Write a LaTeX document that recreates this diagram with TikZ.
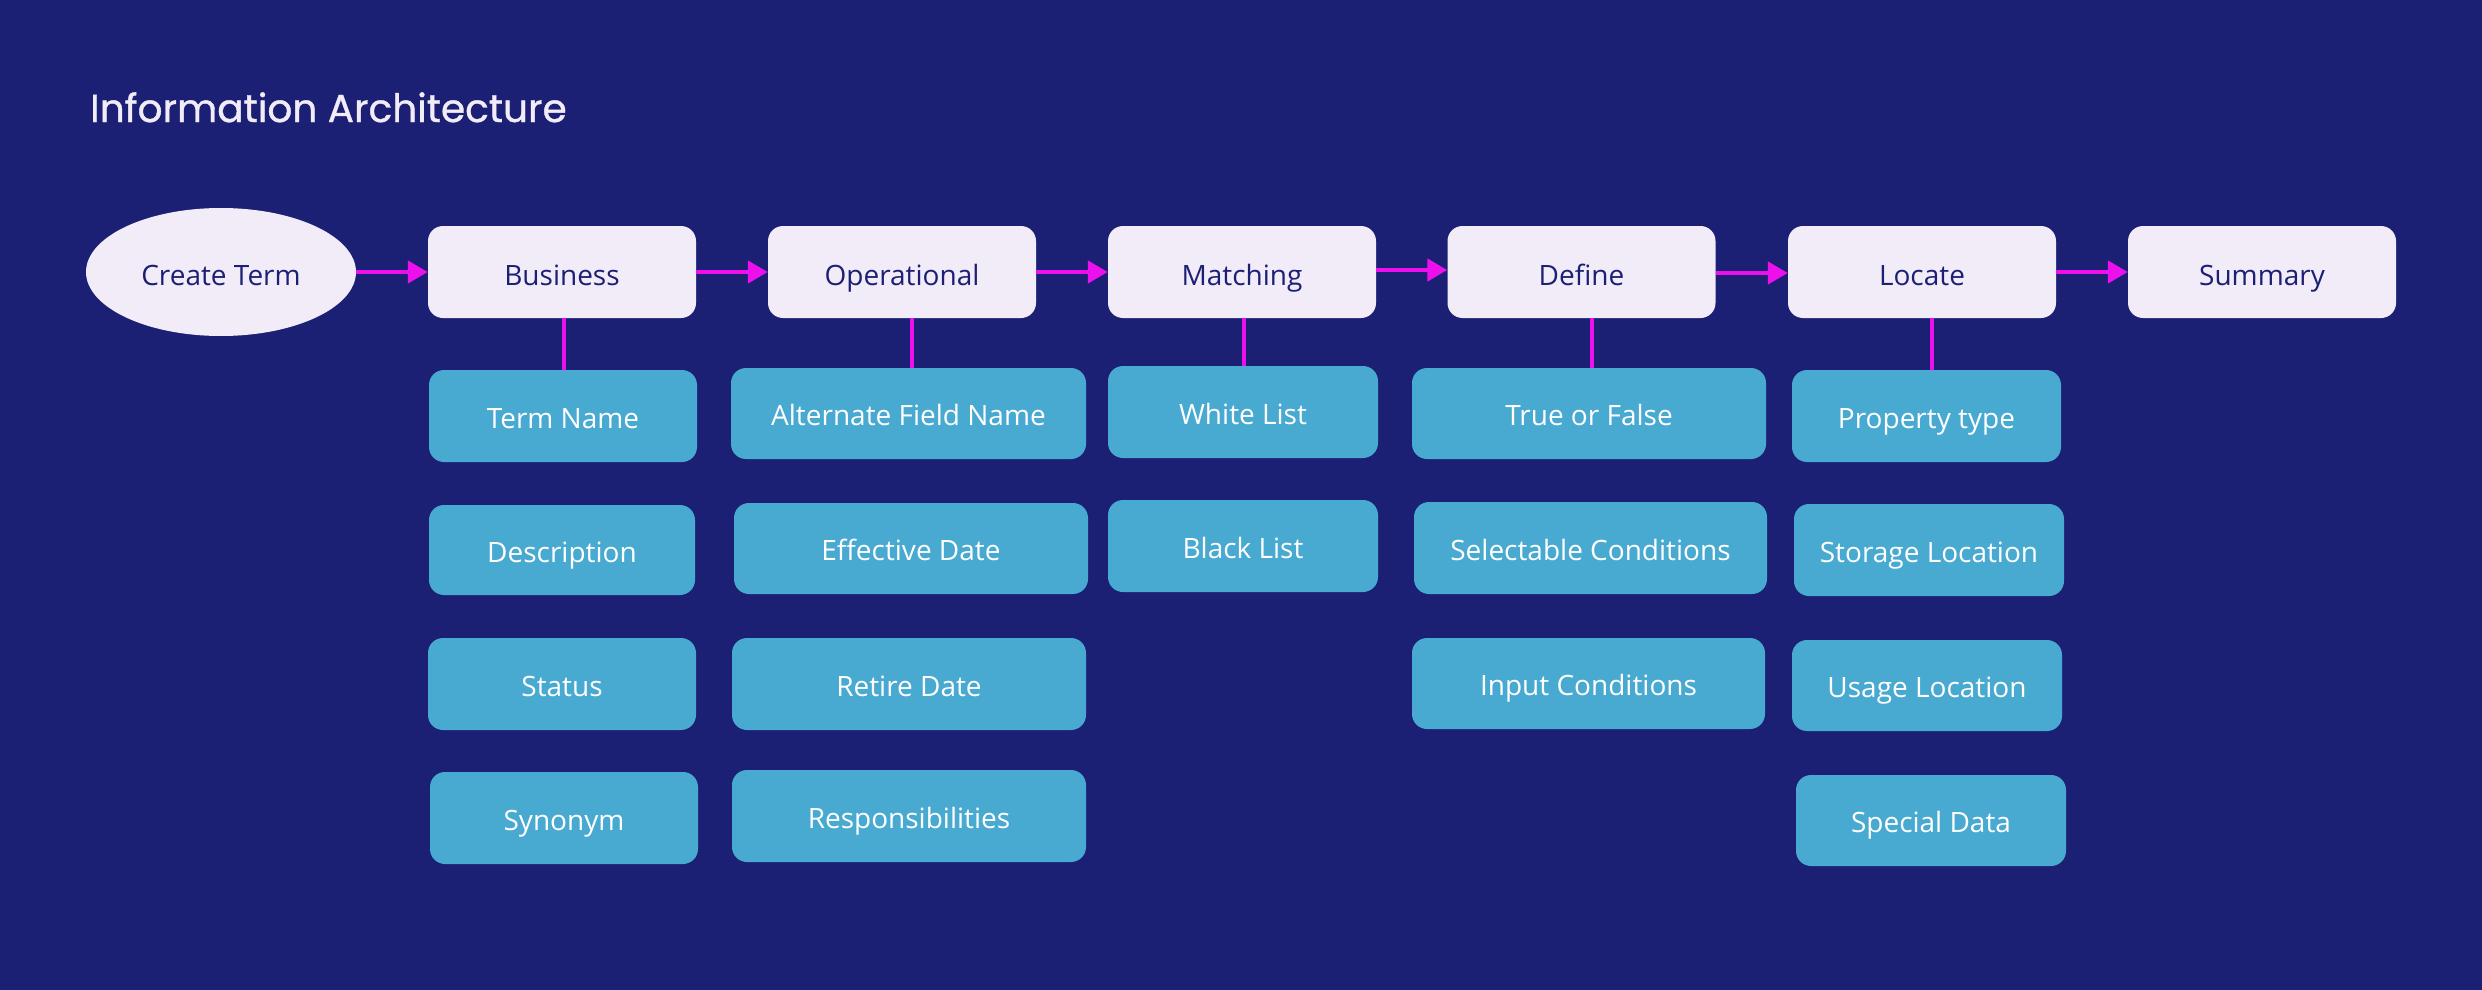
\documentclass[tikz,border=0pt]{standalone}
\usepackage{fontspec}
\setmainfont{Open Sans}
\newfontfamily\titlefont{Poppins}[FakeBold=1]
\usetikzlibrary{arrows.meta,shapes.geometric}
\definecolor{bgnavy}{RGB}{28,32,116}
\definecolor{topfill}{RGB}{241,236,248}
\definecolor{childfill}{RGB}{72,169,209}
\definecolor{linkmag}{RGB}{236,16,236}
\tikzset{
  topbox/.style={rectangle, rounded corners=15pt, fill=topfill, text=bgnavy, minimum width=268pt, minimum height=92pt, inner sep=0pt, text height=26pt, text depth=0pt, font=\fontsize{28}{33}\selectfont},
  startell/.style={ellipse, fill=topfill, text=bgnavy, minimum width=270pt, minimum height=128pt, inner sep=0pt, text height=26pt, text depth=0pt, font=\fontsize{28}{33}\selectfont},
  childbox/.style={rectangle, rounded corners=15pt, fill=childfill, text=white, inner sep=0pt, text height=24pt, text depth=0pt, font=\fontsize{28}{33}\selectfont},
  flow/.style={draw=linkmag, line width=4.5pt, -{Triangle[length=20pt,width=22pt]}},
  link/.style={draw=linkmag, line width=4.5pt},
}
\begin{document}
\begin{tikzpicture}[x=1pt,y=-1pt]
\fill[bgnavy] (0,0) rectangle (2482,990);
\useasboundingbox (0,0) rectangle (2482,990);
\node[anchor=base west, text=topfill, inner sep=0pt, font=\titlefont\fontsize{39}{45}\selectfont] (title) at (90,122) {Information Architecture};

\node[startell] (create) at (221,272) {Create Term};
\node[topbox] (business) at (562,272) {Business};
\node[topbox] (operational) at (902,272) {Operational};
\node[topbox] (matching) at (1242,272) {Matching};
\node[topbox] (define) at (1581.5,272) {Define};
\node[topbox] (locate) at (1922,272) {Locate};
\node[topbox] (summary) at (2262,272) {Summary};

\node[childbox, minimum width=268pt, minimum height=92pt] (termname) at (563,416) {Term Name};
\node[childbox, minimum width=266pt, minimum height=90pt] (description) at (562,550) {Description};
\node[childbox, minimum width=268pt, minimum height=92pt] (status) at (562,684) {Status};
\node[childbox, minimum width=268pt, minimum height=92pt] (synonym) at (564,818) {Synonym};

\node[childbox, minimum width=355pt, minimum height=91pt] (altfield) at (908.5,413.5) {Alternate Field Name};
\node[childbox, minimum width=354pt, minimum height=91pt] (effdate) at (911,548.5) {Effective Date};
\node[childbox, minimum width=354pt, minimum height=92pt] (retire) at (909,684) {Retire Date};
\node[childbox, minimum width=354pt, minimum height=92pt] (resp) at (909,816) {Responsibilities};

\node[childbox, minimum width=270pt, minimum height=92pt] (white) at (1243,412) {White List};
\node[childbox, minimum width=270pt, minimum height=92pt] (black) at (1243,546) {Black List};

\node[childbox, minimum width=354pt, minimum height=91pt] (truefalse) at (1589,413.5) {True or False};
\node[childbox, minimum width=353pt, minimum height=92pt] (selectable) at (1590.5,548) {Selectable Conditions};
\node[childbox, minimum width=353pt, minimum height=91pt] (inputc) at (1588.5,683.5) {Input Conditions};

\node[childbox, minimum width=269pt, minimum height=92pt] (property) at (1926.5,416) {Property type};
\node[childbox, minimum width=270pt, minimum height=92pt] (storage) at (1929,550) {Storage Location};
\node[childbox, minimum width=270pt, minimum height=91pt] (usage) at (1927,685.5) {Usage Location};
\node[childbox, minimum width=270pt, minimum height=91pt] (special) at (1931,820.5) {Special Data};

\draw[flow] (create.east) -- (business.west);
\draw[flow] (business.east) -- (operational.west);
\draw[flow] (operational.east) -- (matching.west);
\draw[flow] ([yshift=2pt]matching.east) -- ([yshift=2pt]define.west);
\draw[flow] ([yshift=-1pt]define.east) -- ([yshift=-1pt]locate.west);
\draw[flow] (locate.east) -- (summary.west);

\draw[link] ([xshift=2pt]business.south) -- ([xshift=2pt]business.south |- termname.north);
\draw[link] ([xshift=10pt]operational.south) -- ([xshift=10pt]operational.south |- altfield.north);
\draw[link] ([xshift=2pt]matching.south) -- ([xshift=2pt]matching.south |- white.north);
\draw[link] ([xshift=10.5pt]define.south) -- ([xshift=10.5pt]define.south |- truefalse.north);
\draw[link] ([xshift=10pt]locate.south) -- ([xshift=10pt]locate.south |- property.north);
\end{tikzpicture}
\end{document}
